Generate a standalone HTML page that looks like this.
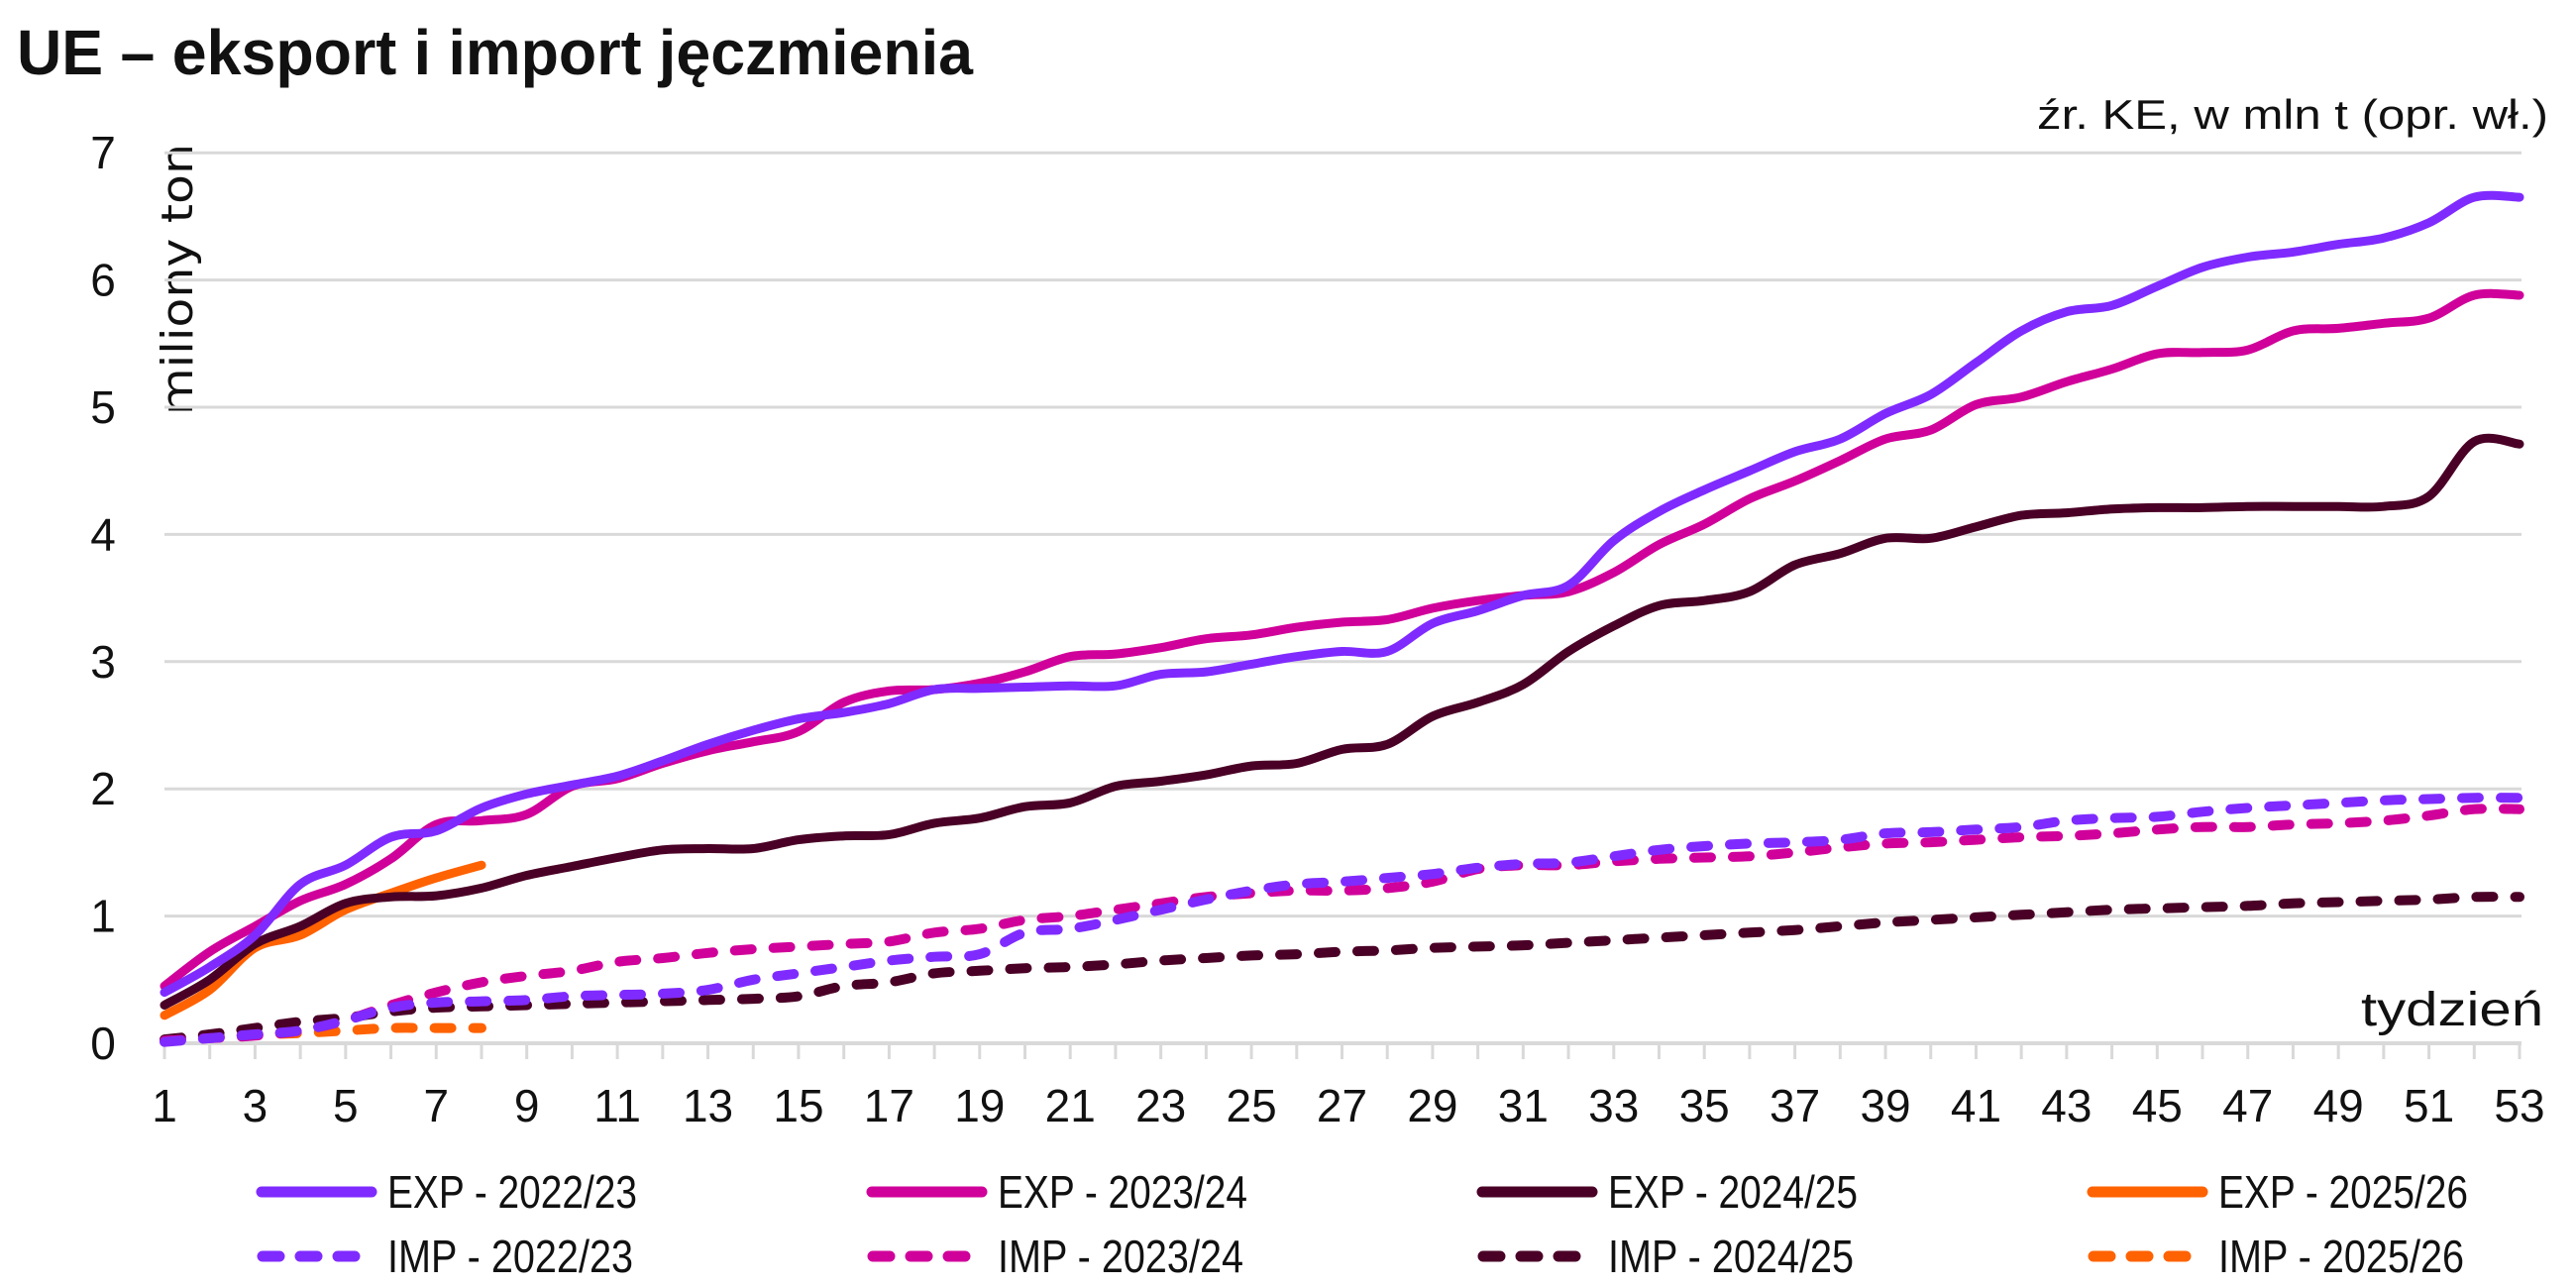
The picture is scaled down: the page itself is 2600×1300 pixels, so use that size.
<!DOCTYPE html>
<html><head><meta charset="utf-8"><style>
html,body{margin:0;padding:0;background:#fff;}
svg{display:block}
text{font-family:"Liberation Sans Narrow","Liberation Sans",sans-serif;fill:#111}
</style></head><body>
<svg id="c" width="2600" height="1300" xmlns="http://www.w3.org/2000/svg">
<text x="17" y="75" font-size="64" font-weight="bold" textLength="965" lengthAdjust="spacingAndGlyphs" style="font-family:'Liberation Sans',sans-serif">UE – eksport i import jęczmienia</text>
<text x="2056" y="130" font-size="42" textLength="516" lengthAdjust="spacingAndGlyphs" style="font-family:'Liberation Sans',sans-serif">źr. KE, w mln t (opr. wł.)</text>
<text transform="translate(194,419) rotate(-90)" font-size="44" textLength="274" lengthAdjust="spacingAndGlyphs" style="font-family:'DejaVu Sans','Liberation Sans',sans-serif">miliony ton</text>
<text x="2383" y="1035" font-size="48" textLength="184" lengthAdjust="spacingAndGlyphs">tydzień</text>
<g id="grid"></g>
<g id="series"></g>
<g id="legend"></g>
</svg>
<script>
var NS="http://www.w3.org/2000/svg";
function el(t,a,p,txt){var e=document.createElementNS(NS,t);for(var k in a)e.setAttribute(k,a[k]);if(txt!==undefined)e.textContent=txt;p.appendChild(e);return e;}
var X0=166,X1=2543,Y0=1053,DY=128.4;
function xw(w){return X0+(w-1)*(X1-X0)/52;}
function yv(v){return Y0-v*DY;}
var g=document.getElementById('grid');
for(var i=1;i<=7;i++){el('line',{x1:X0,x2:X1+2,y1:yv(i),y2:yv(i),stroke:'#d9d9d9','stroke-width':3},g);}
for(var i=0;i<=7;i++){el('text',{x:104,y:yv(i)+16,'font-size':46,'text-anchor':'middle'},g,String(i));}
el('line',{x1:X0,x2:X1+2,y1:Y0,y2:Y0,stroke:'#d9d9d9','stroke-width':4},g);
for(var w=1;w<=53;w++){el('line',{x1:xw(w),x2:xw(w),y1:Y0,y2:Y0+16,stroke:'#d9d9d9','stroke-width':3},g);
 if(w%2==1)el('text',{x:xw(w),y:1132,'font-size':46,'text-anchor':'middle'},g,String(w));}
var P='#7f2bff',M='#d0009a',D='#4a0026',O='#ff6200';
var S=[
[P,0,[0.4,0.6,0.85,1.25,1.4,1.62,1.67,1.85,1.96,2.03,2.1,2.22,2.35,2.46,2.55,2.6,2.67,2.78,2.79,2.8,2.81,2.81,2.9,2.92,2.98,3.04,3.08,3.08,3.3,3.4,3.52,3.6,3.95,4.18,4.35,4.5,4.65,4.75,4.95,5.1,5.35,5.6,5.75,5.8,5.95,6.1,6.18,6.22,6.28,6.33,6.45,6.65,6.65]],
[M,0,[0.45,0.72,0.92,1.12,1.25,1.45,1.72,1.75,1.8,2.02,2.08,2.2,2.3,2.37,2.45,2.68,2.77,2.78,2.83,2.92,3.04,3.06,3.11,3.18,3.21,3.27,3.31,3.33,3.42,3.48,3.52,3.55,3.7,3.92,4.08,4.28,4.42,4.58,4.75,4.82,5.02,5.08,5.2,5.3,5.42,5.43,5.45,5.6,5.62,5.66,5.7,5.88,5.88]],
[D,0,[0.3,0.5,0.78,0.92,1.1,1.15,1.16,1.22,1.32,1.39,1.46,1.52,1.53,1.53,1.6,1.63,1.64,1.73,1.77,1.86,1.89,2.02,2.06,2.11,2.18,2.2,2.31,2.35,2.57,2.68,2.82,3.08,3.28,3.44,3.48,3.55,3.76,3.85,3.97,3.97,4.06,4.15,4.17,4.2,4.21,4.21,4.22,4.22,4.22,4.22,4.3,4.73,4.71]],
[O,0,[0.22,0.42,0.75,0.85,1.05,1.18,1.3,1.4]],
[P,1,[0.01,0.04,0.07,0.1,0.18,0.28,0.32,0.33,0.34,0.37,0.38,0.39,0.42,0.5,0.55,0.6,0.65,0.68,0.7,0.87,0.9,0.97,1.05,1.13,1.2,1.25,1.27,1.3,1.33,1.38,1.41,1.42,1.47,1.52,1.55,1.57,1.58,1.6,1.65,1.66,1.68,1.7,1.75,1.77,1.78,1.82,1.85,1.87,1.89,1.91,1.92,1.93,1.93]],
[M,1,[0.02,0.04,0.06,0.1,0.18,0.3,0.4,0.48,0.53,0.57,0.64,0.67,0.71,0.74,0.76,0.78,0.8,0.87,0.9,0.97,1.0,1.05,1.1,1.15,1.18,1.2,1.2,1.22,1.27,1.37,1.4,1.4,1.43,1.45,1.46,1.47,1.5,1.54,1.57,1.58,1.6,1.62,1.63,1.65,1.68,1.7,1.7,1.72,1.73,1.75,1.79,1.84,1.84]],
[D,1,[0.03,0.07,0.12,0.17,0.2,0.25,0.28,0.29,0.3,0.31,0.32,0.33,0.34,0.35,0.37,0.45,0.48,0.55,0.57,0.59,0.6,0.62,0.65,0.67,0.69,0.7,0.72,0.73,0.75,0.76,0.77,0.79,0.81,0.83,0.85,0.87,0.89,0.92,0.95,0.97,0.99,1.01,1.03,1.05,1.06,1.07,1.08,1.1,1.11,1.12,1.13,1.15,1.15]],
[O,1,[0.02,0.05,0.07,0.08,0.1,0.12,0.12,0.12]]];
function path(d){var p=d.map(function(v,i){return [xw(i+1),yv(v)];});
 var s='M'+p[0][0].toFixed(1)+','+p[0][1].toFixed(1);
 for(var i=0;i<p.length-1;i++){var a=p[i-1]||p[i],b=p[i],c=p[i+1],e=p[i+2]||c;
  var c1=[b[0]+(c[0]-a[0])/6,b[1]+(c[1]-a[1])/6],c2=[c[0]-(e[0]-b[0])/6,c[1]-(e[1]-b[1])/6];
  s+='C'+c1[0].toFixed(1)+','+c1[1].toFixed(1)+' '+c2[0].toFixed(1)+','+c2[1].toFixed(1)+' '+c[0].toFixed(1)+','+c[1].toFixed(1);}
 return s;}
var sg=document.getElementById('series');
for(var k=S.length-1;k>=0;k--){var s=S[k];
 var a={d:path(s[2]),fill:'none',stroke:s[0],'stroke-width':9,'stroke-linecap':'round','stroke-linejoin':'round'};
 if(s[1]){a['stroke-dasharray']='17 22';a['stroke-width']=10;}
 el('path',a,sg);}
var lg=document.getElementById('legend');
var cols=[[259,P,'2022/23'],[875,M,'2023/24'],[1491,D,'2024/25'],[2107,O,'2025/26']];
cols.forEach(function(c){
 el('line',{x1:c[0]+5,x2:c[0]+116,y1:1203,y2:1203,stroke:c[1],'stroke-width':11,'stroke-linecap':'round'},lg);
 el('line',{x1:c[0]+6,x2:c[0]+110,y1:1268,y2:1268,stroke:c[1],'stroke-width':11,'stroke-linecap':'round','stroke-dasharray':'17 21'},lg);
 el('text',{x:c[0]+132,y:1219,'font-size':46,textLength:252,lengthAdjust:'spacingAndGlyphs'},lg,'EXP - '+c[2]);
 el('text',{x:c[0]+132,y:1284,'font-size':46,textLength:248,lengthAdjust:'spacingAndGlyphs'},lg,'IMP - '+c[2]);
});
</script>
</body></html>
